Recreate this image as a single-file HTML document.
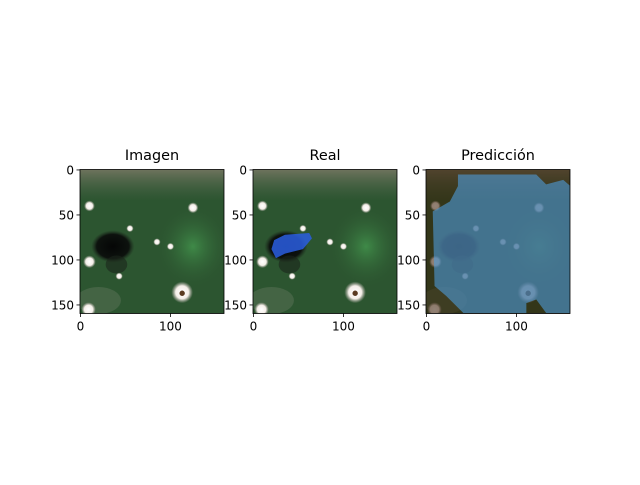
<!DOCTYPE html>
<html><head><meta charset="utf-8"><style>
body{margin:0;background:#fff;font-family:"Liberation Sans","DejaVu Sans",sans-serif}
svg text{font-family:"DejaVu Sans","Liberation Sans",sans-serif}
</style></head><body>
<svg id="fig" width="640" height="480" viewBox="0 0 640 480" xmlns="http://www.w3.org/2000/svg">
<defs>
<radialGradient id="spot"><stop offset="0" stop-color="#fff"/><stop offset="0.6" stop-color="#f4eee8"/><stop offset="1" stop-color="#c8b8b8" stop-opacity="0"/></radialGradient>
<radialGradient id="dark"><stop offset="0" stop-color="#050606"/><stop offset="0.75" stop-color="#0d120e"/><stop offset="1" stop-color="#1e2a1e" stop-opacity="0"/></radialGradient>
<radialGradient id="lgreen" cx="0.5" cy="0.5" r="0.5"><stop offset="0" stop-color="#3f8a48"/><stop offset="1" stop-color="#2e5a32" stop-opacity="0"/></radialGradient>
<linearGradient id="topband" x1="0" y1="0" x2="0" y2="1"><stop offset="0" stop-color="#8a8070" stop-opacity="0.7"/><stop offset="1" stop-color="#5a6a55" stop-opacity="0"/></linearGradient>
<g id="scene">
<rect x="-0.5" y="-0.5" width="160" height="160" fill="#2c5530"/>
<rect x="-0.5" y="-0.5" width="160" height="35" fill="url(#topband)"/>
<ellipse cx="125" cy="85" rx="40" ry="45" fill="url(#lgreen)"/>
<ellipse cx="20" cy="145" rx="25" ry="15" fill="#6a7a65" opacity="0.4"/>
<ellipse cx="36" cy="85" rx="24" ry="18" fill="url(#dark)"/>
<ellipse cx="40" cy="105" rx="12" ry="10" fill="#1a241a" opacity="0.6"/>
<circle cx="10" cy="40" r="6" fill="url(#spot)"/>
<circle cx="125" cy="42" r="6" fill="url(#spot)"/>
<circle cx="55" cy="65" r="4" fill="url(#spot)"/>
<circle cx="85" cy="80" r="4" fill="url(#spot)"/>
<circle cx="100" cy="85" r="4" fill="url(#spot)"/>
<circle cx="10" cy="102" r="7" fill="url(#spot)"/>
<circle cx="43" cy="118" r="4" fill="url(#spot)"/>
<circle cx="113" cy="136" r="12" fill="url(#spot)"/>
<circle cx="113" cy="137" r="3" fill="#5a3a20"/>
<circle cx="9" cy="155" r="8" fill="url(#spot)"/>
</g>
<clipPath id="clip"><rect x="-0.5" y="-0.5" width="160" height="160"/></clipPath>
</defs>
<g id="panels"></g>
</svg>
<script>
const titles=["Imagen","Real","Predicción"];
const panelLeft=[80,253,426];
const xTicks=[0,100];
const yTicks=[0,50,100,150];
const realMask=[[23,78],[35,72],[62,70],[65,76],[55,88],[35,93],[25,98],[20,88]];
const predMask=[[35,5],[122,5],[133,16],[152,11],[160,18],[160,159],[133,159],[122,144],[111,148],[111,159],[41,159],[22,140],[9,129],[7,46],[26,35],[35,18]];
const NS="http://www.w3.org/2000/svg";
const top0=169.5, scale=0.9, ext=[-0.5,159.5];
const root=document.getElementById('panels');
function el(t,a,p){const e=document.createElementNS(NS,t);for(const k in a)e.setAttribute(k,a[k]);(p||root).appendChild(e);return e;}
function sx(i,v){return panelLeft[i]+(v-ext[0])*scale;}
function sy(v){return top0+(v-ext[0])*scale;}
titles.forEach((t,i)=>{
  const g=el('g',{});
  
  
  const img=el('g',{transform:`translate(${sx(i,-0.5)},${sy(-0.5)}) scale(${scale}) translate(0.5,0.5)`,'clip-path':'url(#clip)'},g);
  
  
  el('use',{href:'#scene'},img);
  if(i===1){
    const p=el('polygon',{points:realMask.map(q=>q.join(',')).join(' '),fill:'#2a5ee0',opacity:'0.85'},img);
    
    
  }
  if(i===2){
    el('rect',{x:-0.5,y:-0.5,width:160,height:160,fill:'#3a1e08',opacity:'0.55'},img);
    const p=el('polygon',{points:predMask.map(q=>q.join(',')).join(' '),fill:'#4f9ddc',opacity:'0.6'},img);
    
    
  }
  const w=(ext[1]-ext[0])*scale;
  el('rect',{x:sx(i,ext[0]),y:sy(ext[0]),width:w,height:w,fill:'none',stroke:'#000','stroke-width':0.8},g);
  const tt=el('text',{x:sx(i,ext[0])+w/2,y:sy(ext[0])-9.5,'text-anchor':'middle','font-size':'14.4'},g);
  tt.textContent=t;
  
  
  xTicks.forEach(v=>{
    const x=sx(i,v),y=sy(ext[1]);
    el('line',{x1:x,x2:x,y1:y,y2:y+3.5,stroke:'#000','stroke-width':0.8},g);
    const l=el('text',{x:x,y:y+17,'text-anchor':'middle','font-size':'12'},g);
    l.textContent=v;
    
    
  });
  yTicks.forEach(v=>{
    const x=sx(i,ext[0]),y=sy(v);
    el('line',{x1:x,x2:x-3.5,y1:y,y2:y,stroke:'#000','stroke-width':0.8},g);
    const l=el('text',{x:x-6,y:y+4.3,'text-anchor':'end','font-size':'12'},g);
    l.textContent=v;
    
    
  });
});
</script>
</body></html>
